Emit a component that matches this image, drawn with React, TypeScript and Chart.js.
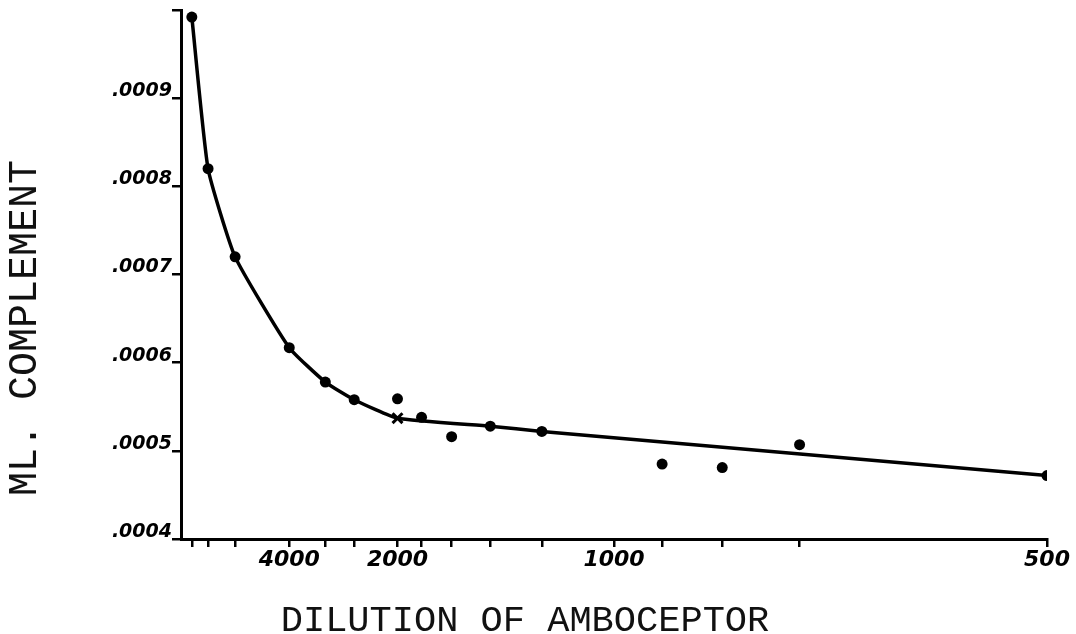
import React, { useEffect, useRef } from "react";
import { Chart, registerables } from "chart.js";

Chart.register(...registerables);

// Dilutions of amboceptor (x is plotted as 10000 / dilution)
const dotDilutions = [40000, 16000, 8000, 4000, 3000, 2500, 2000, 1800, 1600, 1400, 1200, 900, 800, 700, 500];
const dotComplement = [0.000992, 0.00082, 0.00072, 0.000617, 0.000578, 0.000558, 0.000559, 0.000538, 0.000516, 0.000528, 0.000522, 0.000485, 0.000481, 0.000507, 0.000472];

const crossDilutions = [2000];
const crossComplement = [0.000537];

const curveDilutions = [40000, 16000, 8000, 4000, 3000, 2500, 2000, 1400, 1200, 500];
const curveComplement = [0.000992, 0.00082, 0.00072, 0.000617, 0.000578, 0.000558, 0.000537, 0.000528, 0.000522, 0.000472];

const xTickDilutions = [40000, 16000, 8000, 4000, 3000, 2500, 2000, 1800, 1600, 1400, 1200, 1000, 900, 800, 700, 500];
const xLabeledDilutions = [4000, 2000, 1000, 500];

const yTickValues = [0.0004, 0.0005, 0.0006, 0.0007, 0.0008, 0.0009, 0.001];
const yTickLabels = [".0004", ".0005", ".0006", ".0007", ".0008", ".0009", ""];

const xTitle = "DILUTION OF AMBOCEPTOR";
const yTitle = "ML. COMPLEMENT";

const toX = (d: number) => 10000 / d;

const titlePlugin = {
  id: "handTitles",
  afterDraw(chart: any) {
    const ctx = chart.ctx;
    ctx.save();
    ctx.fillStyle = "#111";
    ctx.font = '40px "Liberation Mono"';
    ctx.textAlign = "center";
    ctx.textBaseline = "middle";
    ctx.translate(25, 328);
    ctx.rotate(-Math.PI / 2);
    ctx.fillText(yTitle, 0, 0);
    ctx.restore();
    ctx.save();
    ctx.fillStyle = "#111";
    ctx.font = '37px "Liberation Mono"';
    ctx.textAlign = "center";
    ctx.textBaseline = "alphabetic";
    ctx.fillText(xTitle, 525, 631);
    ctx.restore();
  },
};

export default function App() {
  const ref = useRef<HTMLCanvasElement | null>(null);
  useEffect(() => {
    if (!ref.current) return;
    const chart = new Chart(ref.current, {
      type: "scatter",
      data: {
        datasets: [
          {
            type: "line",
            data: curveDilutions.map((d, i) => ({ x: toX(d), y: curveComplement[i] })),
            borderColor: "#000",
            borderWidth: 3.5,
            pointRadius: 0,
            tension: 0.15,
            fill: false,
          } as any,
          {
            type: "scatter",
            data: dotDilutions.map((d, i) => ({ x: toX(d), y: dotComplement[i] })),
            backgroundColor: "#000",
            borderColor: "#000",
            pointRadius: 5.5,
            borderWidth: 0,
          },
          {
            type: "scatter",
            data: crossDilutions.map((d, i) => ({ x: toX(d), y: crossComplement[i] })),
            pointStyle: "crossRot",
            borderColor: "#000",
            pointRadius: 7,
            borderWidth: 3,
          },
        ],
      },
      options: {
        animation: false,
        responsive: false,
        layout: { padding: { left: 0, right: 29, top: 9, bottom: 0 } },
        plugins: { legend: { display: false }, tooltip: { enabled: false } },
        scales: {
          x: {
            type: "linear",
            min: 0,
            max: 20,
            afterBuildTicks: (s: any) => {
              s.ticks = xTickDilutions.map((d) => ({ value: toX(d) }));
            },
            afterFit: (s: any) => {
              s.height = 95;
            },
            grid: { drawOnChartArea: false, drawTicks: true, tickLength: 8, color: "#000", lineWidth: 2.5 },
            border: { display: true, color: "#000", width: 3 },
            ticks: {
              autoSkip: false,
              maxRotation: 0,
              padding: 0,
              color: "#000",
              font: { family: "DejaVu Sans", size: 22, style: "italic", weight: "bold" },
              callback: (_v: any, i: number) => {
                const d = xTickDilutions[i];
                return xLabeledDilutions.includes(d) ? String(d) : "";
              },
            },
          },
          y: {
            type: "linear",
            min: 0.0004,
            max: 0.001,
            afterBuildTicks: (s: any) => {
              s.ticks = yTickValues.map((v) => ({ value: v }));
            },
            afterFit: (s: any) => {
              s.width = 181;
            },
            grid: { drawOnChartArea: false, drawTicks: true, tickLength: 9, color: "#000", lineWidth: 2.5 },
            border: { display: true, color: "#000", width: 3 },
            ticks: {
              padding: 0,
              labelOffset: -7,
              color: "#000",
              font: { family: "DejaVu Sans", size: 19, style: "italic", weight: "bold", lineHeight: 1 },
              callback: (_v: any, i: number) => yTickLabels[i],
            },
          },
        },
      },
      plugins: [titlePlugin],
    });
    return () => chart.destroy();
  }, []);
  return (
    <div style={{ position: "fixed", left: 0, top: 0, width: 1076, height: 634, background: "#fff" }}>
      <canvas ref={ref} width={1076} height={634} />
    </div>
  );
}
